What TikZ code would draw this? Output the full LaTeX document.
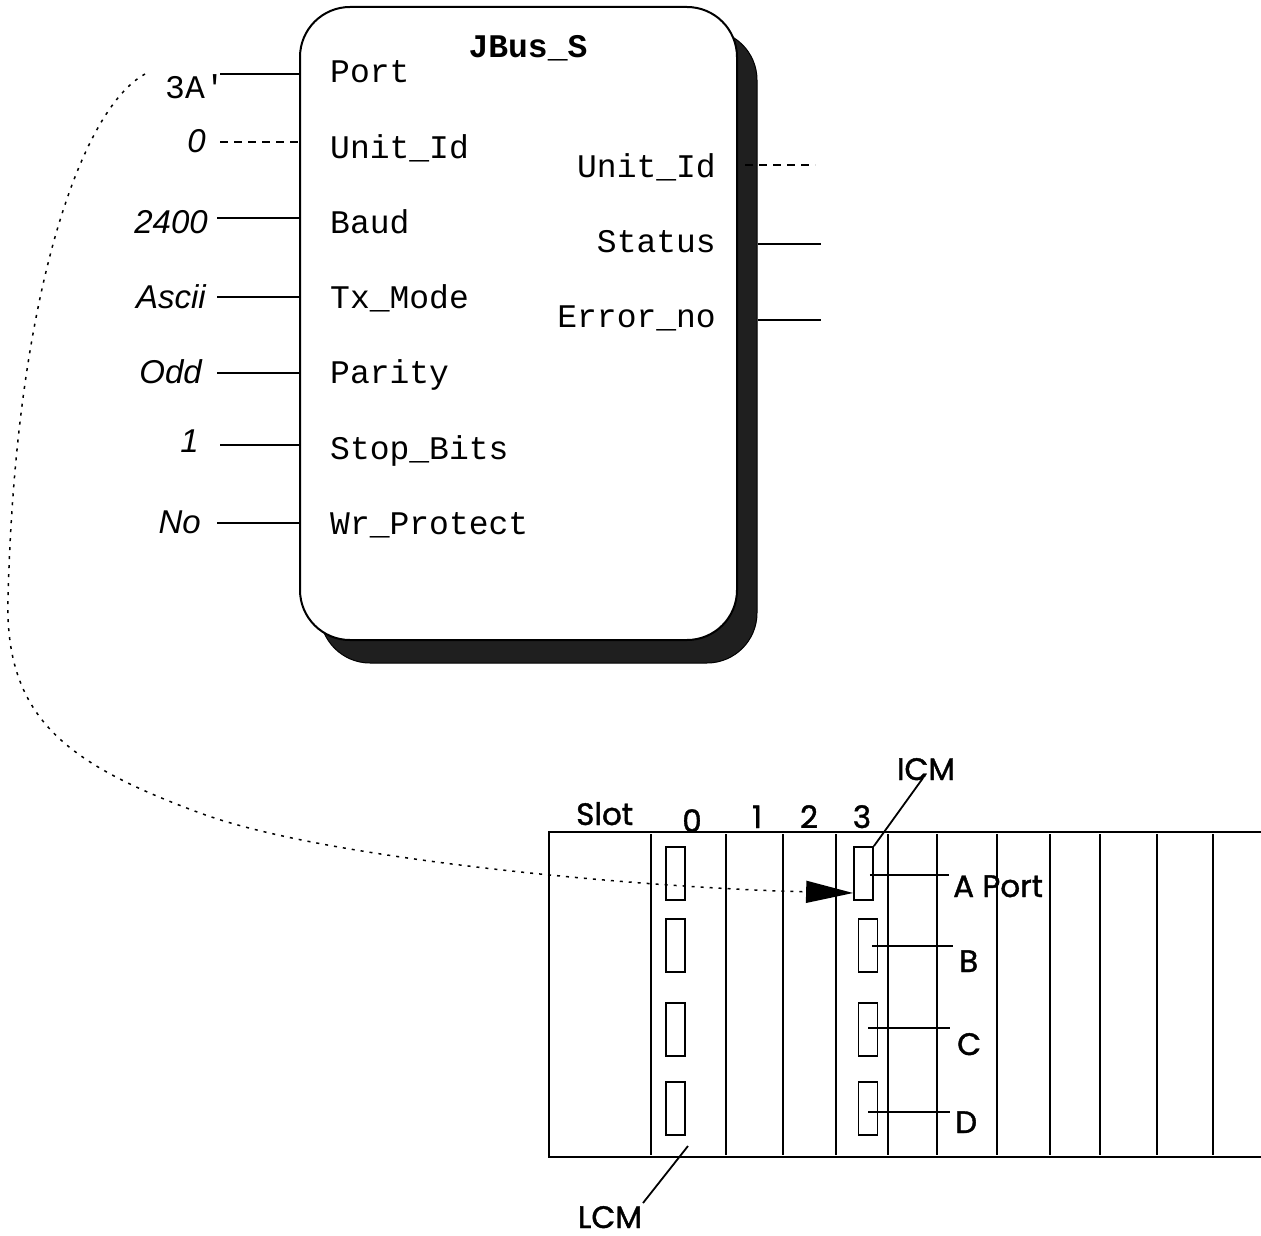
\documentclass[tikz,border=0pt]{standalone}
\usepackage{fontspec}
\setmonofont{Liberation Mono}
\newfontfamily\itfam{Liberation Sans}
\newfontfamily\geofont{Poppins}[FakeBold=1.3]
\usetikzlibrary{arrows.meta,calc}
\tikzset{
  mono/.style={font=\fontsize{33}{33}\selectfont\ttfamily, inner sep=0pt},
  monob/.style={font=\fontsize{33}{33}\selectfont\ttfamily\bfseries, inner sep=0pt},
  valin/.style={font=\fontsize{33}{33}\selectfont\itfam\itshape, inner sep=0pt},
  geo/.style={font=\fontsize{31}{31}\selectfont\geofont, inner sep=0pt},
  ln/.style={line width=1.8pt},
  dsh/.style={line width=1.8pt, dash pattern=on 8pt off 6pt},
  fbox/.style={draw, line width=2pt, fill=white, rounded corners=50pt, minimum width=437pt, minimum height=633pt, inner sep=0pt},
  fshadow/.style={draw, line width=1pt, fill=black!88, rounded corners=50pt, minimum width=437pt, minimum height=633pt, inner sep=0pt},
  portbox/.style={draw, line width=1.8pt, fill=white, minimum width=19pt, minimum height=53pt, inner sep=0pt},
  curvedot/.style={line width=1.5pt, dash pattern=on 3pt off 6pt},
}
\begin{document}
\begin{tikzpicture}[x=1pt,y=-1pt]
\useasboundingbox (0,0) rectangle (1261,1236);
% function block with shadow
\node[fshadow] (fbs) at (538.5,346.5) {};
\node[fbox] (fb) at (518.5,323.5) {};
\node[monob, anchor=base] (title) at (528,58) {JBus\_S};
% inner input labels
\node[mono, anchor=base west] (iport) at (330,83) {Port};
\node[mono, anchor=base west] (iunit) at (330,158) {Unit\_Id};
\node[mono, anchor=base west] (ibaud) at (330,233) {Baud};
\node[mono, anchor=base west] (itx) at (330,308) {Tx\_Mode};
\node[mono, anchor=base west] (ipar) at (330,383) {Parity};
\node[mono, anchor=base west] (istop) at (330,459) {Stop\_Bits};
\node[mono, anchor=base west] (iwr) at (330,534) {Wr\_Protect};
% inner output labels
\node[mono, anchor=base east] (ounit) at (716,177) {Unit\_Id};
\node[mono, anchor=base east] (ostat) at (716,252) {Status};
\node[mono, anchor=base east] (oerr) at (716,327) {Error\_no};
% input values
\node[mono, anchor=base west] (vport) at (165,99) {3A\char"0027};
\node[valin, anchor=base east] (vunit) at (206,153) {0};
\node[valin, anchor=base east] (vbaud) at (208,233) {2400};
\node[valin, anchor=base east] (vtx) at (206,308) {Ascii};
\node[valin, anchor=base east] (vpar) at (202,383) {Odd};
\node[valin, anchor=base east] (vstop) at (199,452) {1};
\node[valin, anchor=base east] (vwr) at (201,533) {No};
% input stubs
\draw[ln] (220,74) -- (fb.west |- 0,74);
\draw[dsh] (220,142) -- (fb.west |- 0,142);
\draw[ln] (217,218) -- (fb.west |- 0,218);
\draw[ln] (217,297) -- (fb.west |- 0,297);
\draw[ln] (217,373) -- (fb.west |- 0,373);
\draw[ln] (220,445) -- (fb.west |- 0,445);
\draw[ln] (217,523) -- (fb.west |- 0,523);
% output stubs
\draw[dsh] (745,165) -- (815,165);
\draw[ln] (fbs.east |- 0,244) -- (821,244);
\draw[ln] (fbs.east |- 0,320) -- (821,320);
% rack
\draw[ln] (1261,832) -- (549,832) -- (549,1157) -- (1261,1157);
\foreach \x in {651,726,783,836,888,937,997,1050,1100,1157,1213}
  \draw[ln] (\x,834) -- (\x,1155);
\node[geo, anchor=base west] (slot) at (576,825) {Slot};
\node[geo, anchor=base] (s0) at (692,832) {0};
\node[geo, anchor=base] (s1) at (757,828) {1};
\node[geo, anchor=base] (s2) at (809,828) {2};
\node[geo, anchor=base] (s3) at (862,828) {3};
% ports
\node[portbox] (lcmA) at (675.5,873.5) {};
\node[portbox] (lcmB) at (675.5,945.5) {};
\node[portbox] (lcmC) at (675.5,1029.5) {};
\node[portbox] (lcmD) at (675.5,1108.5) {};
\node[portbox] (icmA) at (863.5,873.5) {};
\node[portbox] (icmB) at (868,945.5) {};
\node[portbox] (icmC) at (868,1029.5) {};
\node[portbox] (icmD) at (868,1108.5) {};
% port labels
\node[geo, anchor=base west] (lA) at (953,897) {A Port};
\node[geo, anchor=base west] (lB) at (959,972) {B};
\node[geo, anchor=base west] (lC) at (957,1055) {C};
\node[geo, anchor=base west] (lD) at (955,1133) {D};
\coordinate (eA) at (949,875);
\coordinate (eB) at (953,946);
\coordinate (eC) at (950,1028);
\coordinate (eD) at (950,1112);
\draw[ln] ([xshift=-4pt]icmA.east |- eA) -- (eA);
\draw[ln] ([xshift=-6pt]icmB.east |- eB) -- (eB);
\draw[ln] ([xshift=-10pt]icmC.east |- eC) -- (eC);
\draw[ln] ([xshift=-10pt]icmD.east |- eD) -- (eD);
% ICM / LCM callouts
\node[geo, anchor=base] (icm) at (926,780) {ICM};
\node[geo, anchor=base] (lcm) at (610,1228) {LCM};
\draw[ln] (icmA.north east) -- (923,778);
\draw[ln] (688,1146) -- (643,1203);
% dotted connector from Port value to ICM A port
\coordinate (csrc) at (145,74);
\coordinate (atip) at ([yshift=-19.5pt]icmA.west);
\draw[curvedot, -{Triangle[length=47pt,width=22pt]}]
  (csrc) .. controls (80,110) and (15,300) .. (8,600)
  .. controls (5,720) and (70,765) .. (200,813)
  .. controls (330,861) and (650,888) .. (atip);
\end{tikzpicture}
\end{document}
